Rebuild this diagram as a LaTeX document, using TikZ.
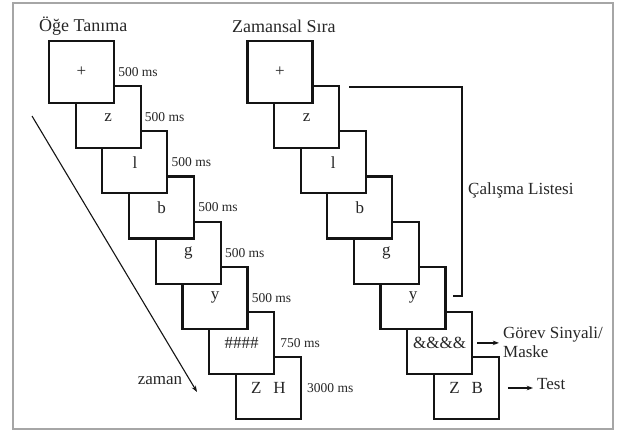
\documentclass[tikz,border=0pt]{standalone}
\usepackage{fontspec}
\setmainfont{Liberation Serif}
\usepackage{xcolor}
\usepackage{tikz}
\usetikzlibrary{arrows.meta,positioning}
\definecolor{ink}{HTML}{141414}
\definecolor{textgray}{HTML}{262626}
\definecolor{framegray}{HTML}{A6A6A6}
\tikzset{
  >={Stealth[length=2.2mm,width=1.6mm]},
  screen/.style={draw=ink,fill=white,line width=2.1pt,minimum width=65pt,minimum height=62pt,inner sep=0pt,text=textgray,font=\fontsize{17}{20}\selectfont},
  msnote/.style={inner sep=2pt,text=textgray,font=\fontsize{13.5}{16}\selectfont},
  heading/.style={inner sep=2pt,anchor=west,text=textgray,font=\fontsize{18}{21}\selectfont},
  tag/.style={inner sep=2pt,text=textgray,font=\fontsize{17}{20}\selectfont},
  timeline/.style={->,line width=1.1pt,color=ink},
  bracket/.style={line width=2.1pt,color=ink},
  pointer/.style={->,line width=1.2pt,color=ink,shorten >=2pt},
}
\begin{document}
\begin{tikzpicture}[x=1pt,y=-1pt]
  \useasboundingbox (0,0) rectangle (623,431);
  \draw[framegray,line width=1.2pt] (13,3) rectangle (613,429);

  % Oge Tanima
  \node[heading] (titleL) at (37,26) {Öğe Tanıma};
  \node[screen] (l8) at (268.4,388) {Z\hspace{.7em}H};
  \node[screen] (l7) at (241.7,342.9) {\#\#\#\#};
  \node[screen] (l6) at (215,297.8) {y};
  \node[screen] (l5) at (188.3,252.6) {g};
  \node[screen] (l4) at (161.6,207.5) {b};
  \node[screen] (l3) at (134.9,162.3) {l};
  \node[screen] (l2) at (108.2,117.2) {z};
  \node[screen] (l1) at (81.5,72) {+};
  \node[msnote,right=1pt of l1] (d1) {500 ms};
  \node[msnote,right=1pt of l2] (d2) {500 ms};
  \node[msnote,right=1pt of l3] (d3) {500 ms};
  \node[msnote,right=1pt of l4] (d4) {500 ms};
  \node[msnote,right=1pt of l5] (d5) {500 ms};
  \node[msnote,right=1pt of l6] (d6) {500 ms};
  \node[msnote,right=3pt of l7] (d7) {750 ms};
  \node[msnote,right=3pt of l8] (d8) {3000 ms};
  \coordinate (tstart) at (32,116);
  \coordinate (tend) at (197,392);
  \draw[timeline] (tstart) -- (tend);
  \node[tag] (zaman) at (160,381) {zaman};

  % Zamansal Sira
  \node[heading] (titleR) at (230,26) {Zamansal Sıra};
  \node[screen] (r8) at (466.2,388) {Z\hspace{.7em}B};
  \node[screen] (r7) at (439.6,342.9) {\&\&\&\&};
  \node[screen] (r6) at (413,297.8) {y};
  \node[screen] (r5) at (386.4,252.6) {g};
  \node[screen] (r4) at (359.8,207.5) {b};
  \node[screen] (r3) at (333.2,162.3) {l};
  \node[screen] (r2) at (306.6,117.2) {z};
  \node[screen] (r1) at (280,72) {+};
  \coordinate (brtop) at (349,87);
  \coordinate (brend) at (453,296);
  \draw[bracket] (brtop) -| (462,296) -- (brend);
  \node[tag,anchor=west] (study) at (466,190) {Çalışma Listesi};
  \node[tag,anchor=west,align=left] (cue) at (501,342) {Görev Sinyali/\\[-1pt]Maske};
  \draw[pointer] ([xshift=4pt]r7.east) -- (r7.east -| cue.west);
  \node[tag,anchor=west] (test) at (535,384) {Test};
  \draw[pointer] ([xshift=8pt]r8.east) -- (r8.east -| test.west);
\end{tikzpicture}
\end{document}
